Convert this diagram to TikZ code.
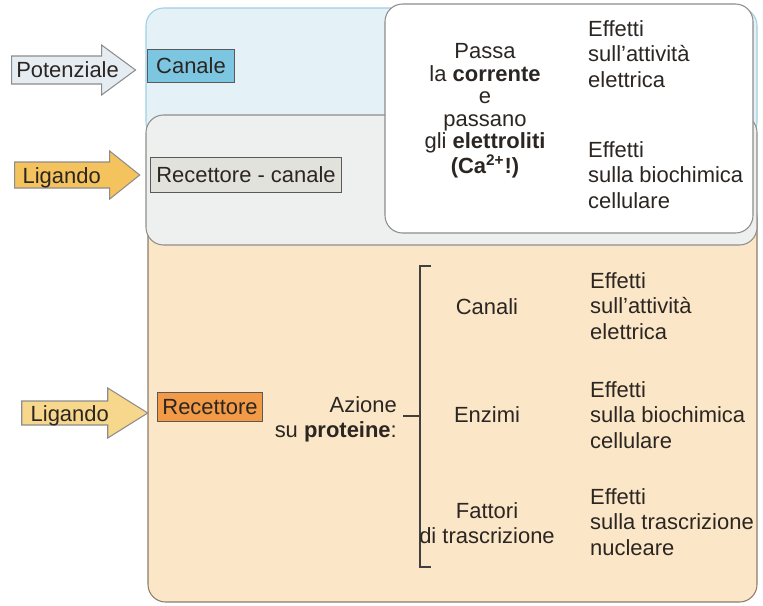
\documentclass[tikz,border=0pt]{standalone}
\usepackage{fontspec}
\setmainfont{Liberation Sans}
\usepackage{xcolor}
\usepackage{tikz}
\usetikzlibrary{positioning, calc}

\definecolor{bandblue}{HTML}{E4F2F8}
\definecolor{bandblueline}{HTML}{9CCFE2}
\definecolor{bandgrey}{HTML}{EEF0EF}
\definecolor{bandgreyline}{HTML}{8E8E8A}
\definecolor{bandorange}{HTML}{FBE7C8}
\definecolor{bandorangeline}{HTML}{8C7C68}
\definecolor{canaleblue}{HTML}{7CC6E2}
\definecolor{recgrey}{HTML}{E2E2DC}
\definecolor{recorange}{HTML}{F29A45}
\definecolor{potfill}{HTML}{E6EDF2}
\definecolor{ligfill}{HTML}{F4C35E}
\definecolor{ligfilllight}{HTML}{F7D78C}
\definecolor{inkdark}{HTML}{2B2622}

\newcommand{\diafont}{\fontsize{12.5}{14.4}\selectfont}

\begin{document}
\begin{tikzpicture}[
        x=0.02cm, y=-0.02cm,
        every node/.style={text=inkdark},
        band/.style={line width=0.6pt, rounded corners=10},
        tag/.style={rectangle, draw=black!65, line width=0.6pt, font=\diafont, inner sep=0pt},
        blockarrow/.style={draw=black!45, line width=0.6pt, line join=miter},
        arrowlabel/.style={font=\diafont, inner sep=0pt},
        item/.style={font=\diafont, align=center},
        effect/.style={font=\diafont, align=left, anchor=west}
        ]

        \useasboundingbox (0,0) rectangle (763,605);

        % Bands
        \draw [band, fill=bandorange, draw=bandorangeline] (148,200) rectangle (757,602);
        \draw [band, fill=bandblue, draw=bandblueline] (146,8) rectangle (757,140);
        \draw [band, fill=bandgrey, draw=bandgreyline] (146,115) rectangle (757,245);
        \draw [fill=white, draw=black!45, line width=0.6pt, rounded corners=10] (385,4) rectangle (753,233);

        % Receptor boxes
        \node (canale) [tag, fill=canaleblue, minimum width=50pt, minimum height=18.7pt] at (191,66) {Canale};
        \node (reccan) [tag, fill=recgrey, minimum width=109pt, minimum height=20pt] at (246,175) {Recettore - canale};
        \node (recettore) [tag, fill=recorange, minimum width=60pt, minimum height=17pt] at (210,407) {Recettore};

        % Stimulus arrows
        \coordinate (pottip) at ($(canale.west)+(-11,4)$);
        \draw [blockarrow, fill=potfill] (pottip) -- ++(-34,-25) -- ++(0,11) -- ++(-90,0) -- ++(0,28) -- ++(90,0) -- ++(0,11) -- cycle;
        \node (pot) [arrowlabel] at ($(pottip)+(-68,0)$) {Potenziale};

        \coordinate (ligtip) at ($(reccan.west)+(-10,0)$);
        \draw [blockarrow, fill=ligfill] (ligtip) -- ++(-30,-24) -- ++(0,11) -- ++(-95,0) -- ++(0,26) -- ++(95,0) -- ++(0,11) -- cycle;
        \node (lig) [arrowlabel] at ($(ligtip)+(-78,3)$) {Ligando};

        \coordinate (recligtip) at ($(recettore.west)+(-9,6)$);
        \draw [blockarrow, fill=ligfilllight] (recligtip) -- ++(-40,-25) -- ++(0,13) -- ++(-86,0) -- ++(0,24) -- ++(86,0) -- ++(0,13) -- cycle;
        \node (reclig) [arrowlabel] at ($(recligtip)+(-78,3)$) {Ligando};

        % Channel effects
        \node (passa) [item, font=\fontsize{12.5}{12.8}\selectfont] at (485,111)
            {Passa\\la \textbf{corrente}\\e\\passano\\gli \textbf{elettroliti}\\\textbf{(Ca\textsuperscript{2+}!)}};
        \node (effelet) [effect] at (582,54) {Effetti\\sull'attività\\elettrica};
        \node (effbio) [effect] at (582,175) {Effetti\\sulla biochimica\\cellulare};

        % Receptor action on proteins
        \node (azione) [item, align=right, anchor=east] at (403,419) {Azione\\su \textbf{proteine}:};
        \coordinate (brk) at (420,416);
        \draw [black!75, line width=0.7pt] (431,266) -- (420,266) -- (420,567) -- (431,567);
        \draw [black!75, line width=0.7pt] (azione.east |- brk) -- (brk);

        \node (canali) [item] at (487,307) {Canali};
        \node (enzimi) [item] at (487,415) {Enzimi};
        \node (fattori) [item] at (487,523) {Fattori\\di trascrizione};

        \node (effcan) [effect] at (584,306) {Effetti\\sull'attività\\elettrica};
        \node (effenz) [effect] at (584,415) {Effetti\\sulla biochimica\\cellulare};
        \node (efffat) [effect] at (584,522) {Effetti\\sulla trascrizione\\nucleare};

    \end{tikzpicture}
\end{document}
